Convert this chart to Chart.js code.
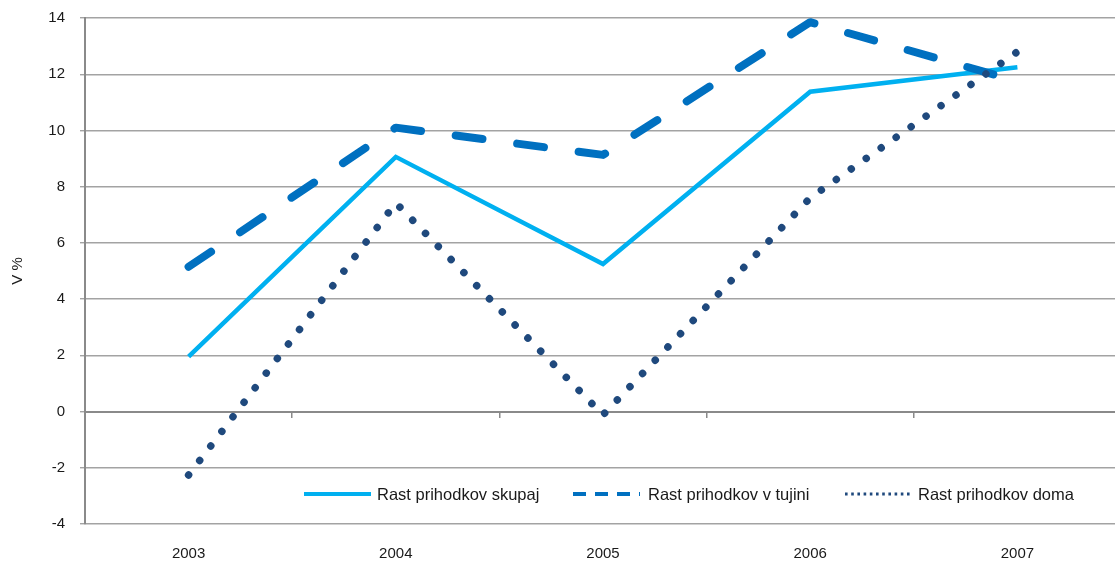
<!DOCTYPE html>
<html>
<head>
<meta charset="utf-8">
<script src="https://cdn.jsdelivr.net/npm/chart.js@4"></script>
<style>
  html, body { margin: 0; padding: 0; background: #fff; overflow: hidden; }
  #wrap { position: relative; width: 1122px; height: 563px; }
</style>
</head>
<body>
<div id="wrap"><canvas id="chart"></canvas></div>
<script>
const years = ["2003", "2004", "2005", "2006", "2007"];
const rastSkupaj = [1.95, 9.06, 5.25, 11.38, 12.25];
const rastTujina = [5.15, 10.1, 9.13, 13.85, 11.75];
const rastDoma = [-2.26, 7.42, -0.12, 7.6, 12.8];
const yTicks = { min: -4, max: 14, step: 2 };

const fontFamily = '"Liberation Sans Narrow", "Arial Narrow", "Liberation Sans", sans-serif';
const gridGrey = "#a3a3a3";
const axisGrey = "#8a8a8a";

// Excel-style legend that sits inside the plot, above the bottom gridline.
const insideLegend = {
  id: "insideLegend",
  afterDraw(chart, args, opts) {
    const { ctx } = chart;
    opts.items.forEach((item, i) => {
      const ds = chart.data.datasets[i];
      ctx.save();
      ctx.strokeStyle = ds.borderColor;
      ctx.lineWidth = item.width;
      ctx.setLineDash(item.dash || []);
      ctx.lineCap = "butt";
      ctx.beginPath();
      ctx.moveTo(item.x, opts.y);
      ctx.lineTo(item.x + opts.sampleLength, opts.y);
      ctx.stroke();
      ctx.setLineDash([]);
      ctx.fillStyle = "#1a1a1a";
      ctx.font = `${opts.fontSize}px ${fontFamily}`;
      ctx.textBaseline = "middle";
      ctx.fillText(ds.label, item.textX, opts.y + 1);
      ctx.restore();
    });
  },
};

new Chart(document.getElementById("chart"), {
  type: "line",
  data: {
    labels: years,
    datasets: [
      {
        label: "Rast prihodkov skupaj",
        data: rastSkupaj,
        borderColor: "#00b0f0",
        borderWidth: 4.5,
        pointRadius: 0,
        tension: 0,
        order: 3,
      },
      {
        label: "Rast prihodkov v tujini",
        data: rastTujina,
        borderColor: "#0070c0",
        borderWidth: 8,
        borderDash: [27, 35],
        borderCapStyle: "round",
        borderJoinStyle: "round",
        pointRadius: 0,
        tension: 0,
        order: 2,
      },
      {
        label: "Rast prihodkov doma",
        data: rastDoma,
        borderColor: "#1f497d",
        borderWidth: 7.5,
        borderDash: [0.01, 18.3],
        borderCapStyle: "round",
        pointRadius: 0,
        tension: 0,
        order: 1,
      },
    ],
  },
  options: {
    responsive: true,
    maintainAspectRatio: false,
    animation: false,
    layout: { padding: { top: 18, right: 1, left: 0, bottom: 0 } },
    plugins: {
      legend: { display: false },
      tooltip: { enabled: false },
      insideLegend: {
        y: 494,
        sampleLength: 67,
        fontSize: 16.5,
        items: [
          { x: 304, textX: 377, width: 4 },
          { x: 573, textX: 648, width: 4, dash: [13, 9] },
          { x: 845, textX: 918, width: 3, dash: [2.6, 3.6] },
        ],
      },
    },
    scales: {
      x: {
        type: "category",
        offset: true,
        grid: { display: false, drawTicks: false },
        border: { display: false },
        ticks: {
          padding: 21,
          color: "#1a1a1a",
          font: { family: fontFamily, size: 15 },
          maxRotation: 0,
        },
        afterFit(scale) { scale.height = 39; },
      },
      xZero: {
        type: "category",
        position: { y: 0 },
        offset: true,
        grid: {
          offset: true,
          drawOnChartArea: false,
          tickLength: 5,
          color: axisGrey,
          lineWidth: 1.5,
        },
        border: { display: true, color: axisGrey, width: 2 },
        ticks: { display: false },
        // the zero axis sits inside the plot, so it should not take layout space
        afterFit(scale) { scale.height = 0; },
      },
      y: {
        min: yTicks.min,
        max: yTicks.max,
        ticks: {
          stepSize: yTicks.step,
          padding: 15,
          color: "#1a1a1a",
          font: { family: fontFamily, size: 15 },
        },
        grid: { color: gridGrey, lineWidth: 1.4, tickLength: 5 },
        border: { display: true, color: axisGrey, width: 2 },
        title: {
          display: true,
          text: "V %",
          color: "#1a1a1a",
          font: { family: fontFamily, size: 15 },
          padding: { top: 9, bottom: 0 },
        },
        afterFit(scale) {
          scale.width = 85;
          scale.paddingTop = 0;
          scale.paddingBottom = 0;
        },
      },
    },
  },
  plugins: [insideLegend],
});
</script>
</body>
</html>
